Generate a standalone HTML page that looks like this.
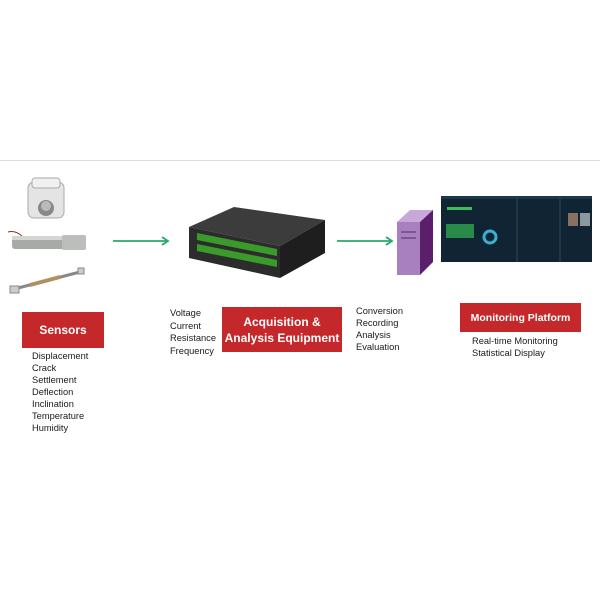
<!DOCTYPE html>
<html><head><style>
body{margin:0;width:600px;height:600px;background:#fff;position:relative;overflow:hidden;font-family:"Liberation Sans",sans-serif}
.t{position:absolute;font-size:9.3px;line-height:12px;color:#1a1a1a}
.r{position:absolute;background:#c4282a;color:#fff;font-weight:bold;text-align:center;display:flex;align-items:center;justify-content:center}
</style></head><body>
<div style="position:absolute;left:0;top:160px;width:600px;height:1px;background:#ddd"></div>
<svg width="600" height="600" style="position:absolute;left:0;top:0">
 <rect x="28" y="182" width="36" height="36" rx="6" fill="#e4e4e4" stroke="#aaa"/>
 <rect x="32" y="178" width="28" height="10" rx="3" fill="#f0f0f0" stroke="#aaa"/>
 <circle cx="46" cy="208" r="8" fill="#888"/>
 <circle cx="46" cy="206" r="5" fill="#bbb"/>
 <path d="M8 232 Q15 230 22 236" stroke="#7a3b2a" fill="none"/>
 <rect x="12" y="236" width="74" height="13" rx="3" fill="#a8aaa8"/>
 <rect x="12" y="236" width="74" height="4" fill="#d4d6d4"/>
 <rect x="62" y="235" width="24" height="15" rx="2" fill="#bcbebc"/>
 <line x1="18" y1="288" x2="80" y2="272" stroke="#888" stroke-width="3"/>
 <line x1="30" y1="285" x2="60" y2="277" stroke="#b09060" stroke-width="4"/>
 <rect x="10" y="286" width="9" height="7" fill="#ccc" stroke="#888"/>
 <rect x="78" y="268" width="6" height="6" fill="#ccc" stroke="#888"/>
 <g stroke="#2aa86a" stroke-width="1.8" fill="none">
  <line x1="113" y1="241" x2="167" y2="241"/><path d="M162 237 L168 241 L162 245"/>
  <line x1="337" y1="241" x2="391" y2="241"/><path d="M386 237 L392 241 L386 245"/>
 </g>
 <polygon points="189,227 234,207 325,220 280,246" fill="#3c3c3c"/>
 <polygon points="189,227 280,246 280,278 189,258" fill="#2c2c2c"/>
 <polygon points="280,246 325,220 325,253 280,278" fill="#1e1e1e"/>
 <polygon points="197,233 277,249 277,256 197,240" fill="#3a9a2a"/>
 <polygon points="197,244 277,260 277,267 197,251" fill="#3a9a2a"/>
 <polygon points="397,222 410,210 433,210 420,222" fill="#c8a8d8"/>
 <polygon points="397,222 420,222 420,275 397,275" fill="#a880c0"/>
 <polygon points="420,222 433,210 433,262 420,275" fill="#5a1e6a"/>
 <line x1="401" y1="232" x2="416" y2="232" stroke="#5a2a6a"/>
 <line x1="401" y1="238" x2="416" y2="238" stroke="#5a2a6a"/>
 <rect x="441" y="196" width="151" height="66" fill="#102434"/>
 <rect x="441" y="196" width="151" height="3" fill="#1a3a4a"/>
 <rect x="446" y="224" width="28" height="14" fill="#2a8a4a"/>
 <rect x="447" y="207" width="25" height="3" fill="#3ac05a"/>
 <circle cx="490" cy="237" r="6" fill="none" stroke="#3ab0d0" stroke-width="3"/>
 <rect x="568" y="213" width="10" height="13" fill="#8a7060"/>
 <rect x="580" y="213" width="10" height="13" fill="#8a9aa0"/>
 <line x1="517" y1="199" x2="517" y2="262" stroke="#2a4a5a"/>
 <line x1="560" y1="199" x2="560" y2="262" stroke="#2a4a5a"/>
</svg>
<div class="r" style="left:22px;top:312px;width:82px;height:36px;font-size:12px">Sensors</div>
<div class="r" style="left:222px;top:307px;width:120px;height:45px;font-size:12px;line-height:16px">Acquisition &amp;<br>Analysis Equipment</div>
<div class="r" style="left:460px;top:303px;width:121px;height:29px;font-size:10.5px">Monitoring Platform</div>
<div class="t" style="left:32px;top:350px">Displacement<br>Crack<br>Settlement<br>Deflection<br>Inclination<br>Temperature<br>Humidity</div>
<div class="t" style="left:170px;top:307px;line-height:12.6px">Voltage<br>Current<br>Resistance<br>Frequency</div>
<div class="t" style="left:356px;top:305px">Conversion<br>Recording<br>Analysis<br>Evaluation</div>
<div class="t" style="left:472px;top:335px">Real-time Monitoring<br>Statistical Display</div>
</body></html>
